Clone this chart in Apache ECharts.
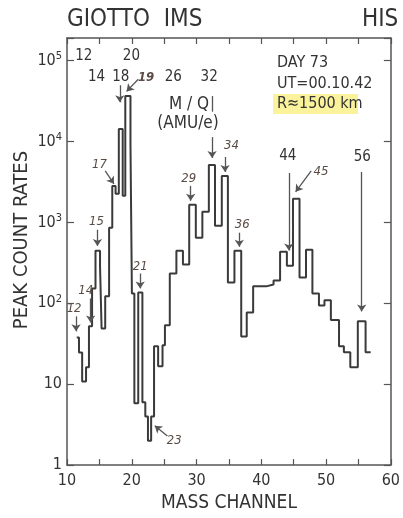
<!DOCTYPE html>
<html>
<head>
<meta charset="utf-8">
<script src="https://cdn.jsdelivr.net/npm/echarts@6/dist/echarts.min.js"></script>
<style>
    html, body { margin: 0; padding: 0; background: #fff; }
    #chart { width: 403px; height: 518px; }
</style>
</head>
<body>
<div id="chart"></div>
<script>
//////////////////////////////////////////////////////////////////
// [ Data ]

// channel edges of every step of the histogram
const binEdges = [11.50, 11.85, 12.34, 12.94, 13.39, 13.87, 14.40, 15.10, 15.34, 15.90,
    16.50, 16.99, 17.50, 18.00, 18.60, 19.00, 19.80, 20.02, 20.40, 21.00,
    21.64, 22.09, 22.50, 22.99, 23.44, 24.07, 24.75, 25.12, 25.87, 26.89,
    27.90, 28.87, 29.89, 30.90, 31.90, 32.85, 33.90, 34.84, 35.85, 36.90,
    37.75, 38.74, 40.75, 41.89, 42.90, 43.95, 44.89, 45.90, 46.90, 47.89,
    48.90, 49.75, 50.74, 52.00, 52.75, 53.74, 54.90, 56.10, 56.89];

// peak count rate of each step
const peakRates = [37.7, 24.7, 10.8, 16.2, 52, 152, 448, 285, 49, 122,
    860, 2830, 2260, 14300, 2130, 36500, 9300, 132, 5.8, 136,
    6.0, 4.0, 2.0, 4.0, 29.5, 16.7, 30.3, 53.5, 233, 448,
    301, 1650, 647, 1355, 5140, 910, 3760, 181, 448, 39,
    77, 162, 171, 191, 435, 292, 1960, 208, 461, 132,
    94, 109, 62, 29.5, 24.8, 16.2, 60, 24.8];

const xTicks = [10, 20, 30, 40, 50, 60];

// printed mass labels [text, channel, rate]
const printedLabels = [
    ['12', 12.6, 113000], ['20', 19.95, 113000],
    ['14', 14.55, 62400], ['18', 18.3, 62400], ['26', 26.4, 62400], ['32', 31.95, 62400],
    ['44', 44.1, 6600], ['56', 55.6, 6440]
];

// hand written mass labels [text, channel, rate]
const handLabels = [
    ['12', 11.1, 86.5], ['14', 12.9, 144], ['15', 14.55, 1020], ['17', 15.0, 5250],
    ['19', 22.2, 62400], ['21', 21.3, 284], ['23', 26.55, 2.0], ['29', 28.8, 3450],
    ['34', 35.4, 8800], ['36', 37.05, 935], ['45', 49.2, 4210]
];

// arrows [x1, y1, x2, y2, curveness]
const arrows = [
    [11.4, 69, 11.4, 45, 0],
    [13.65, 115, 13.65, 58, 0],
    [14.7, 813, 14.7, 513, 0],
    [15.9, 4330, 17.25, 3000, -0.3],
    [18.15, 49600, 18.15, 30600, 0],
    [21.0, 58900, 19.2, 41700, -0.3],
    [32.4, 11350, 32.4, 6270, 0],
    [21.3, 234, 21.3, 153, 0],
    [25.5, 2.29, 23.55, 3.06, 0],
    [29.1, 2830, 29.1, 1850, 0],
    [34.4, 6440, 34.4, 4210, 0],
    [36.6, 747, 36.6, 500, 0],
    [44.25, 4090, 44.25, 449, 0],
    [47.7, 4330, 45.3, 2390, -0.3],
    [55.5, 4210, 55.5, 79.5, 0]
];

//////////////////////////////////////////////////////////////////
// [ Chart ]

const font = "'Liberation Sans Narrow', 'DejaVu Sans Condensed', Roboto, sans-serif";
const ink = '#3a3a3a';

const stepData = binEdges.map(function (x, i) {
    return [x, peakRates[Math.min(i, peakRates.length - 1)]];
});

function labelItem(l, hand) {
    return {
        coord: [l[1], l[2]],
        value: l[0],
        label: {
            show: true,
            position: 'inside',
            formatter: l[0],
            fontFamily: font,
            fontSize: hand ? 13 : 15,
            fontStyle: hand ? 'italic' : 'normal',
            fontWeight: l[0] === '19' && hand ? 'bold' : 'normal',
            color: hand ? '#5a4c44' : '#333'
        }
    };
}

const chart = echarts.init(document.getElementById('chart'));

const yLog = {
    type: 'log',
    logBase: 10,
    min: 1,
    max: Math.pow(10, 5.28),
    splitNumber: 5,
    splitLine: { show: false },
    axisLine: { show: true, lineStyle: { color: '#555', width: 1.5 } },
    axisTick: { show: true, inside: true, length: 7, lineStyle: { color: '#555', width: 1.2 } }
};

const options = {
    animation: false,
    grid: { left: 67, right: 3, top: 38, bottom: 51 },
    xAxis: [
        {
            type: 'value',
            min: 10,
            max: 60,
            interval: 5,
            splitLine: { show: false },
            axisLine: { lineStyle: { color: '#555', width: 1.5 } },
            axisTick: { inside: true, length: 6, lineStyle: { color: '#555', width: 1.2 } },
            axisLabel: {
                margin: 8,
                fontFamily: font,
                fontSize: 16,
                color: '#333',
                formatter: function (v) { return xTicks.indexOf(v) >= 0 ? String(v) : ''; }
            },
            name: 'MASS CHANNEL',
            nameLocation: 'middle',
            nameGap: 28,
            nameTextStyle: { fontFamily: font, fontSize: 19, color: '#333' }
        },
        {
            type: 'value',
            position: 'top',
            min: 10,
            max: 60,
            interval: 5,
            splitLine: { show: false },
            axisLine: { lineStyle: { color: '#555', width: 1.5 } },
            axisTick: { inside: true, length: 6, lineStyle: { color: '#555', width: 1.2 } },
            axisLabel: { show: false }
        }
    ],
    yAxis: [
        Object.assign({}, yLog, {
            axisLabel: {
                margin: 5,
                fontFamily: font,
                color: '#333',
                fontSize: 16,
                formatter: function (v) {
                    const l = Math.log10(v);
                    const e = Math.round(l);
                    if (Math.abs(l - e) > 1e-6) return '';
                    if (e === 0) return '1';
                    if (e === 1) return '10';
                    return '{b|10}{s|' + e + '}';
                },
                rich: {
                    b: { fontFamily: font, fontSize: 16, color: '#333' },
                    s: { fontFamily: font, fontSize: 11, color: '#333', verticalAlign: 'top', padding: [0, 0, 9, 0] }
                }
            }
        }),
        Object.assign({}, yLog, { position: 'right', axisLabel: { show: false } })
    ],
    graphic: [
        { type: 'text', left: 67, top: 8, style: { text: 'GIOTTO  IMS', fontFamily: font, fontSize: 24, fill: '#333' } },
        { type: 'text', left: 362, top: 8, style: { text: 'HIS', fontFamily: font, fontSize: 24, fill: '#333' } },
        { type: 'text', x: 22, y: 240, rotation: Math.PI / 2,
            style: { text: 'PEAK COUNT RATES', fontFamily: font, fontSize: 20, fill: '#333', align: 'center', verticalAlign: 'middle' } },
        { type: 'rect', shape: { x: 273, y: 94, width: 85, height: 20 }, style: { fill: '#fbf29c' }, z: 1 },
        { type: 'text', x: 277, y: 63, z: 5, style: { text: 'DAY 73', fontFamily: font, fontSize: 16, fill: '#333', verticalAlign: 'middle' } },
        { type: 'text', x: 277, y: 84, z: 5, style: { text: 'UT=00.10.42', fontFamily: font, fontSize: 16, fill: '#333', verticalAlign: 'middle' } },
        { type: 'text', x: 277, y: 104, z: 5, style: { text: 'R\u22481500 km', fontFamily: font, fontSize: 16, fill: '#333', verticalAlign: 'middle' } },
        { type: 'text', x: 189, y: 105, z: 5, style: { text: 'M / Q', fontFamily: font, fontSize: 17, fill: '#333', align: 'center', verticalAlign: 'middle' } },
        { type: 'text', x: 188, y: 124, z: 5, style: { text: '(AMU/e)', fontFamily: font, fontSize: 17, fill: '#333', align: 'center', verticalAlign: 'middle' } }
    ],
    series: [
        {
            type: 'line',
            step: 'end',
            symbol: 'none',
            data: stepData,
            lineStyle: { color: ink, width: 2 },
            markPoint: {
                symbol: 'circle',
                symbolSize: 1,
                itemStyle: { color: 'rgba(0,0,0,0)' },
                data: printedLabels.map(function (l) { return labelItem(l, false); })
                    .concat(handLabels.map(function (l) { return labelItem(l, true); }))
            },
            markLine: {
                silent: true,
                symbol: ['none', 'arrow'],
                symbolSize: 7,
                label: { show: false },
                lineStyle: { type: 'solid', color: '#555', width: 1.3 },
                data: arrows.map(function (a) {
                    return [
                        { coord: [a[0], a[1]], lineStyle: { curveness: a[4] } },
                        { coord: [a[2], a[3]] }
                    ];
                }).concat([[
                    { coord: [32.4, 36500], symbol: 'none' },
                    { coord: [32.4, 23400], symbol: 'none' }
                ]])
            }
        }
    ]
};

chart.setOption(options);

window.addEventListener('resize', function () {
    chart.resize();
});
</script>
</body>
</html>
